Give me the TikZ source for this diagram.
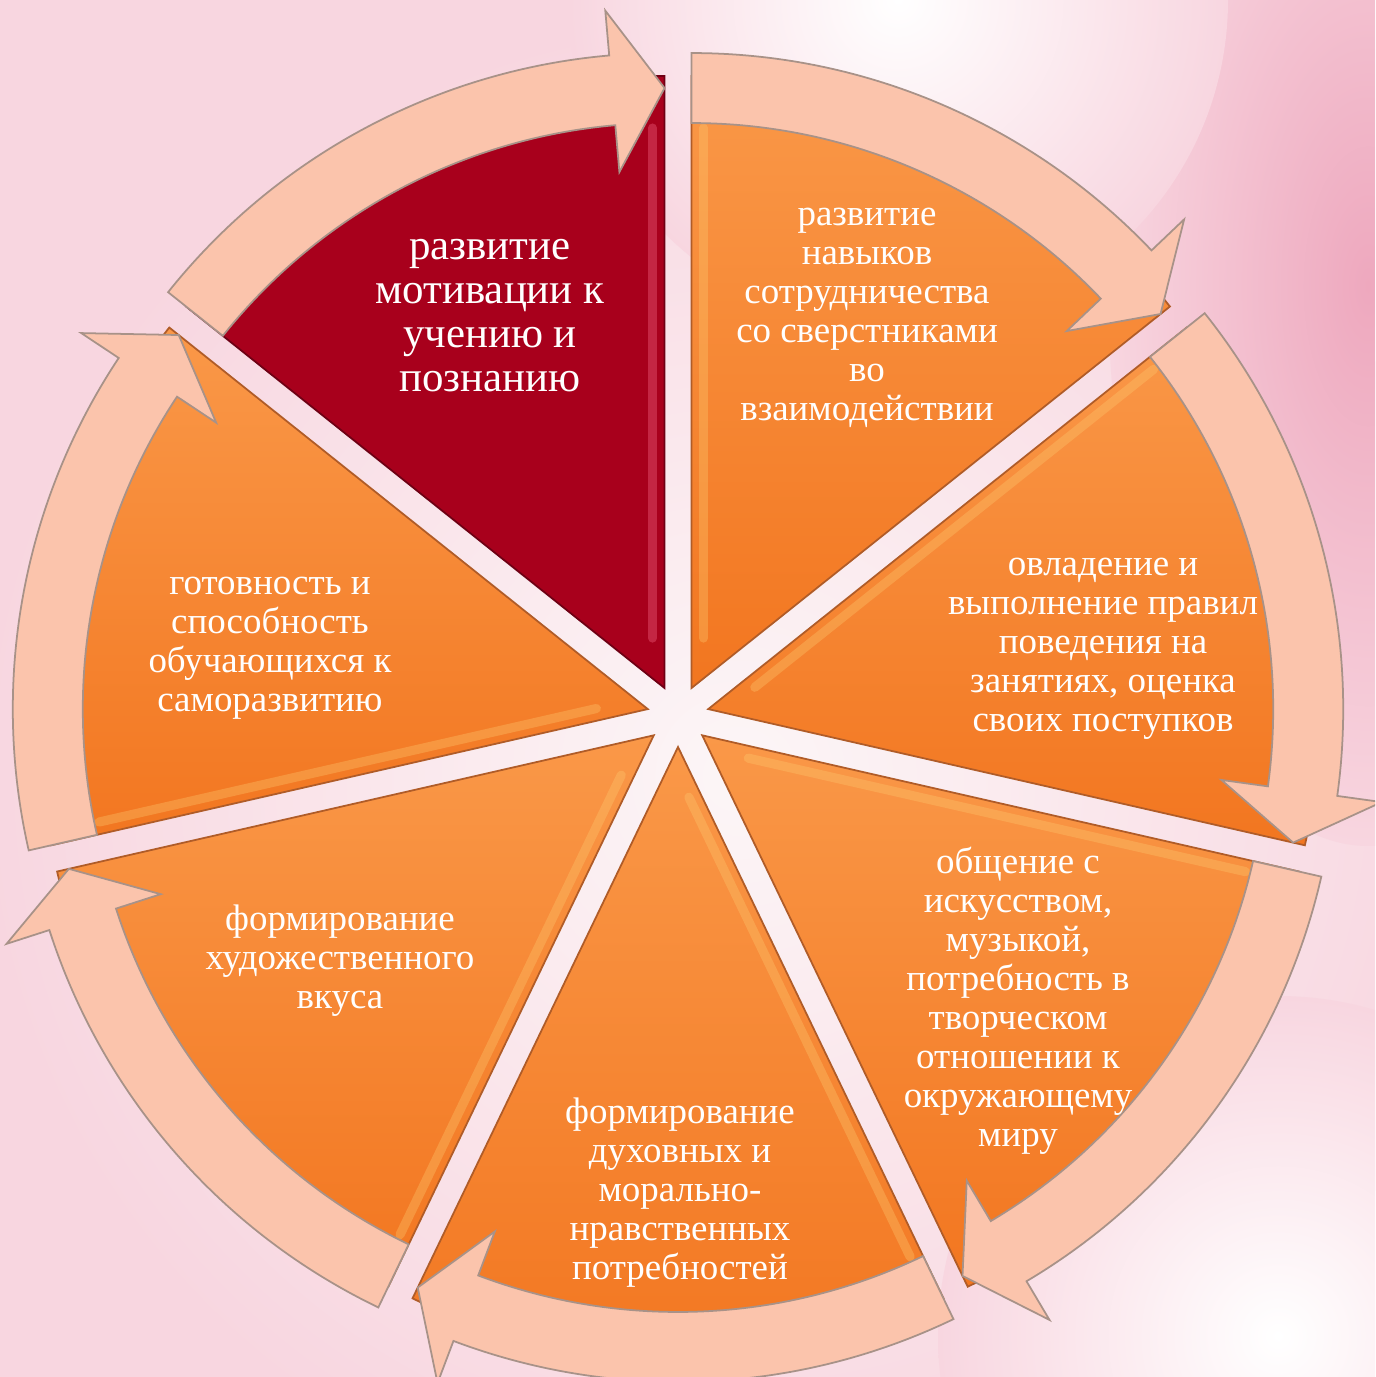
\documentclass[tikz,border=0pt]{standalone}
\usepackage{fontspec}
\setmainfont{Liberation Serif}
\definecolor{bgpink}{RGB}{248,214,224}
\definecolor{bgdeep}{RGB}{238,168,190}
\definecolor{bgwhite}{RGB}{252,246,247}
\definecolor{orangelight}{RGB}{250,152,72}
\definecolor{orangedark}{RGB}{242,118,32}
\definecolor{orangeline}{RGB}{176,92,40}
\definecolor{orangeshine}{RGB}{253,200,110}
\definecolor{myred}{RGB}{168,0,28}
\definecolor{redline}{RGB}{110,0,20}
\definecolor{redshine}{RGB}{232,86,116}
\definecolor{peach}{RGB}{251,196,172}
\definecolor{bandline}{RGB}{168,146,136}
\tikzset{
  piece/.style={draw=orangeline, line width=0.5pt,
    top color=orangelight, bottom color=orangedark},
  redpiece/.style={draw=redline, line width=0.5pt, fill=myred},
  glint/.style={draw=orangeshine, line width=2.6pt, opacity=0.35, line cap=round},
  redglint/.style={draw=redshine, line width=2.6pt, opacity=0.45, line cap=round},
  band/.style={draw=bandline, line width=0.5pt, fill=peach},
  txt/.style={text=white, align=center,
    font=\fontsize{10.5}{11.1}\selectfont},
  bigtxt/.style={txt, font=\fontsize{12.2}{12.5}\selectfont}
}

\begin{document}
\begin{tikzpicture}[x=0.01cm, y=0.01cm]
  % Background
  \useasboundingbox (-678,-661) rectangle (697,716);
  \clip (-678,-661) rectangle (697,716);
  \fill[bgpink] (-678,-661) rectangle (697,716);
  \path[inner color=bgwhite, outer color=bgpink] (60,-60) circle[radius=760];
  \path[inner color=bgdeep, outer color=bgpink] (690,430) circle[x radius=260, y radius=560];
  \path[inner color=white, outer color=bgpink] (220,716) circle[radius=330];
  \path[inner color=white, outer color=bgpink] (600,-620) circle[radius=340];

  % Red piece: motivation
  \begin{scope}[shift={(115.71:31)}]
    \draw[redpiece] (0,0) -- (90:612) arc[start angle=90, end angle=141.43, radius=612] -- cycle;
    \draw[redglint, rotate=90] (50,12) -- (560,12);
    \draw[band] (141.43:565) -- (141.43:635) arc[start angle=141.43, end angle=95, radius=635]
      -- (95:680) -- (90:600) -- (95:518) -- (95:565) arc[start angle=95, end angle=141.43, radius=565] -- cycle;
  \end{scope}

  % Cooperation
  \begin{scope}[shift={(64.29:31)}]
    \draw[piece] (0,0) -- (38.57:612) arc[start angle=38.57, end angle=90, radius=612] -- cycle;
    \draw[glint, rotate=90] (50,-12) -- (560,-12);
    \draw[band] (90:565) -- (90:635) arc[start angle=90, end angle=43.57, radius=635]
      -- (43.57:680) -- (38.57:600) -- (43.57:518) -- (43.57:565) arc[start angle=43.57, end angle=90, radius=565] -- cycle;
  \end{scope}

  % Rules of behaviour
  \begin{scope}[shift={(12.86:31)}]
    \draw[piece] (0,0) -- (-12.86:612) arc[start angle=-12.86, end angle=38.57, radius=612] -- cycle;
    \draw[glint, rotate=38.57] (50,-12) -- (560,-12);
    \draw[band] (38.57:565) -- (38.57:635) arc[start angle=38.57, end angle=-7.86, radius=635]
      -- (-7.86:680) -- (-12.86:600) -- (-7.86:518) -- (-7.86:565) arc[start angle=-7.86, end angle=38.57, radius=565] -- cycle;
  \end{scope}

  % Art and music
  \begin{scope}[shift={(-38.57:31)}]
    \draw[piece] (0,0) -- (-64.29:612) arc[start angle=-64.29, end angle=-12.86, radius=612] -- cycle;
    \draw[glint, rotate=-12.86] (50,-12) -- (560,-12);
    \draw[band] (-12.86:565) -- (-12.86:635) arc[start angle=-12.86, end angle=-59.29, radius=635]
      -- (-59.29:680) -- (-64.29:600) -- (-59.29:518) -- (-59.29:565) arc[start angle=-59.29, end angle=-12.86, radius=565] -- cycle;
  \end{scope}

  % Spiritual needs
  \begin{scope}[shift={(-90:31)}]
    \draw[piece] (0,0) -- (-115.71:612) arc[start angle=-115.71, end angle=-64.29, radius=612] -- cycle;
    \draw[glint, rotate=-64.29] (50,-12) -- (560,-12);
    \draw[band] (-64.29:565) -- (-64.29:635) arc[start angle=-64.29, end angle=-110.71, radius=635]
      -- (-110.71:680) -- (-115.71:600) -- (-110.71:518) -- (-110.71:565) arc[start angle=-110.71, end angle=-64.29, radius=565] -- cycle;
  \end{scope}

  % Artistic taste
  \begin{scope}[shift={(-141.43:31)}]
    \draw[piece] (0,0) -- (-167.14:612) arc[start angle=-167.14, end angle=-115.71, radius=612] -- cycle;
    \draw[glint, rotate=-115.71] (50,-12) -- (560,-12);
    \draw[band] (-115.71:565) -- (-115.71:635) arc[start angle=-115.71, end angle=-162.14, radius=635]
      -- (-162.14:680) -- (-167.14:600) -- (-162.14:518) -- (-162.14:565) arc[start angle=-162.14, end angle=-115.71, radius=565] -- cycle;
  \end{scope}

  % Self-development
  \begin{scope}[shift={(167.14:31)}]
    \draw[piece] (0,0) -- (141.43:612) arc[start angle=141.43, end angle=192.86, radius=612] -- cycle;
    \draw[glint, rotate=192.86] (50,-12) -- (560,-12);
    \draw[band] (192.86:565) -- (192.86:635) arc[start angle=192.86, end angle=146.43, radius=635]
      -- (146.43:680) -- (141.43:600) -- (146.43:518) -- (146.43:565) arc[start angle=146.43, end angle=192.86, radius=565] -- cycle;
  \end{scope}

  % Texts
  \node[bigtxt] (motiv) at (-188,400) {развитие\\мотивации к\\учению и\\познанию};
  \node[txt] (sotrud) at (189,398) {развитие\\навыков\\сотрудничества\\со сверстниками\\во\\взаимодействии};
  \node[txt] (pravila) at (425,67) {овладение и\\выполнение правил\\поведения на\\занятиях, оценка\\своих поступков};
  \node[txt] (iskus) at (340,-285) {общение с\\искусством,\\музыкой,\\потребность в\\творческом\\отношении к\\окружающему\\миру};
  \node[txt] (duh) at (2,-477) {формирование\\духовных и\\морально-\\нравственных\\потребностей};
  \node[txt] (vkus) at (-338,-245) {формирование\\художественного\\вкуса};
  \node[txt] (samorazv) at (-408,68) {готовность и\\способность\\обучающихся к\\саморазвитию};
\end{tikzpicture}
\end{document}
